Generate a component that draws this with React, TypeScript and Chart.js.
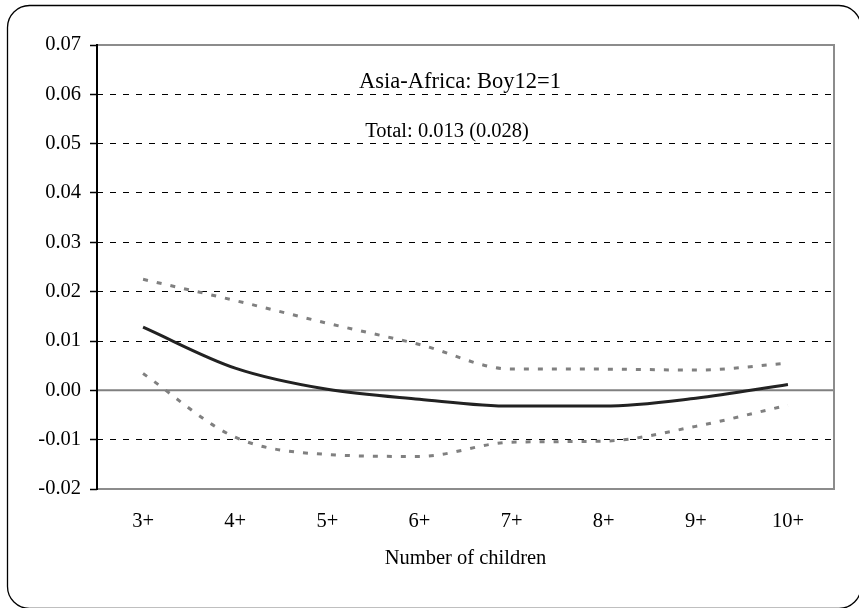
import React, { useEffect, useRef } from "react";
import { Chart, registerables } from "chart.js";

Chart.register(...registerables);

const categories = ["3+", "4+", "5+", "6+", "7+", "8+", "9+", "10+"];
const estimate = [0.0128, 0.0045, 0.0002, -0.0018, -0.0032, -0.0032, -0.0016, 0.0012];
const upperBound = [0.0225, 0.0182, 0.0136, 0.0093, 0.0043, 0.0043, 0.0041, 0.0055];
const lowerBound = [0.0034, -0.0095, -0.013, -0.0134, -0.0105, -0.0103, -0.0073, -0.003];
const yMin = -0.02;
const yMax = 0.07;
const yStep = 0.01;
const titleText = "Asia-Africa: Boy12=1";
const subtitleText = "Total: 0.013 (0.028)";
const xTitle = "Number of children";

const FONT = "'Liberation Serif', 'Times New Roman', serif";

const framePlugin = {
  id: "frame",
  beforeDraw(chart: any) {
    const { ctx } = chart;
    ctx.save();
    ctx.fillStyle = "#ffffff";
    ctx.fillRect(0, 0, chart.width, chart.height);
    ctx.strokeStyle = "#000000";
    ctx.lineWidth = 1.3;
    ctx.beginPath();
    ctx.roundRect(7.5, 5.5, 853.5, 603, 22);
    ctx.stroke();
    ctx.restore();
  },
  beforeDatasetsDraw(chart: any) {
    const { ctx, chartArea } = chart;
    const y = chart.scales.y;
    const y0 = y.getPixelForValue(0);
    ctx.save();
    ctx.strokeStyle = "#808080";
    ctx.lineWidth = 2;
    ctx.beginPath();
    ctx.moveTo(chartArea.left, y0);
    ctx.lineTo(chartArea.right, y0);
    ctx.stroke();
    ctx.strokeStyle = "#8c8c8c";
    ctx.lineWidth = 2;
    ctx.beginPath();
    ctx.moveTo(chartArea.left, chartArea.top);
    ctx.lineTo(chartArea.right, chartArea.top);
    ctx.lineTo(chartArea.right, chartArea.bottom);
    ctx.lineTo(chartArea.left, chartArea.bottom);
    ctx.stroke();
    ctx.strokeStyle = "#000000";
    ctx.beginPath();
    ctx.moveTo(chartArea.left, chartArea.top - 1);
    ctx.lineTo(chartArea.left, chartArea.bottom + 1);
    ctx.stroke();
    ctx.restore();
  },
  afterDraw(chart: any) {
    const { ctx, chartArea } = chart;
    const w = chartArea.right - chartArea.left;
    ctx.save();
    ctx.fillStyle = "#000000";
    ctx.textAlign = "center";
    ctx.textBaseline = "alphabetic";
    ctx.font = `22.5px ${FONT}`;
    ctx.fillText(titleText, chartArea.left + w * 0.4925, chartArea.top + 43);
    ctx.font = `20.5px ${FONT}`;
    ctx.fillText(subtitleText, chartArea.left + w * 0.475, chartArea.top + 92);
    ctx.restore();
  },
};

export default function App() {
  const ref = useRef<HTMLCanvasElement | null>(null);

  useEffect(() => {
    if (!ref.current) return;
    const lineBase = {
      pointRadius: 0,
      cubicInterpolationMode: "monotone" as const,
      fill: false,
    };
    const chart = new Chart(ref.current, {
      type: "line",
      data: {
        labels: categories,
        datasets: [
          {
            ...lineBase,
            label: "Upper",
            data: upperBound,
            borderColor: "#808080",
            borderWidth: 3,
            borderDash: [5, 9],
          },
          {
            ...lineBase,
            label: "Lower",
            data: lowerBound,
            borderColor: "#808080",
            borderWidth: 3,
            borderDash: [5, 9],
          },
          {
            ...lineBase,
            label: "Estimate",
            data: estimate,
            borderColor: "#222222",
            borderWidth: 3,
          },
        ],
      },
      options: {
        responsive: false,
        animation: false,
        layout: { padding: { left: 10, right: 25, top: 45, bottom: 0 } },
        plugins: {
          legend: { display: false },
          tooltip: { enabled: false },
          title: { display: false },
        },
        scales: {
          x: {
            type: "category",
            offset: true,
            grid: { display: false, drawTicks: false },
            border: { display: false },
            ticks: {
              color: "#000000",
              font: { family: FONT, size: 20.5 },
              padding: 20,
              maxRotation: 0,
            },
            title: {
              display: true,
              text: xTitle,
              color: "#000000",
              font: { family: FONT, size: 20.5 },
              padding: { top: 0, bottom: 37 },
            },
            afterFit(scale: any) {
              scale.height = 119;
            },
          },
          y: {
            min: yMin,
            max: yMax,
            grid: {
              color: (c: any) => {
                const v = c.tick ? c.tick.value : 0;
                if (Math.abs(v) < 1e-9 || Math.abs(v - yMax) < 1e-9 || Math.abs(v - yMin) < 1e-9) {
                  return "rgba(0,0,0,0)";
                }
                return "#000000";
              },
              lineWidth: 1,
              drawTicks: true,
              tickLength: 7,
              tickColor: "#000000",
              tickWidth: 1.5,
              tickBorderDash: [],
            },
            border: { display: false, dash: [6, 7] },
            ticks: {
              stepSize: yStep,
              color: "#000000",
              font: { family: FONT, size: 20.5 },
              padding: 9,
              callback: (v: any) => Number(v).toFixed(2),
            },
            afterFit(scale: any) {
              scale.width = 87;
            },
          },
        },
      },
      plugins: [framePlugin],
    });
    return () => chart.destroy();
  }, []);

  return (
    <div style={{ position: "absolute", left: 0, top: 0, width: 859, height: 608 }}>
      <canvas ref={ref} width={859} height={608} style={{ display: "block" }} />
    </div>
  );
}
